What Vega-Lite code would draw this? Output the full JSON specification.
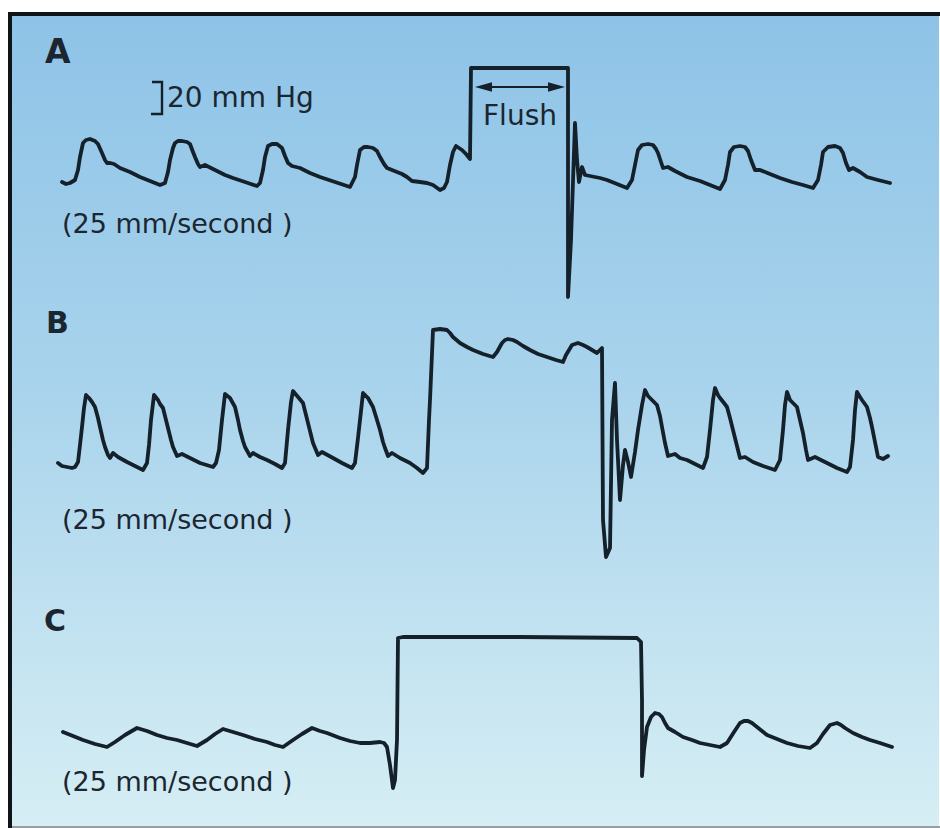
{
  "$schema": "https://vega.github.io/schema/vega-lite/v6.json",
  "width": 940,
  "height": 828,
  "padding": 0,
  "autosize": {"type": "none"},
  "background": "#ffffff",
  "config": {"view": {"stroke": null}},
  "datasets": {
    "wave": [
      {"p":"A","i":0,"t":62,"v":182},{"p":"A","i":1,"t":66,"v":184},{"p":"A","i":2,"t":70,"v":183},{"p":"A","i":3,"t":75,"v":180},{"p":"A","i":4,"t":78,"v":170},{"p":"A","i":5,"t":80,"v":157},{"p":"A","i":6,"t":83,"v":143},{"p":"A","i":7,"t":86,"v":140},{"p":"A","i":8,"t":90,"v":139},{"p":"A","i":9,"t":95,"v":141},{"p":"A","i":10,"t":98,"v":144},{"p":"A","i":11,"t":102,"v":153},{"p":"A","i":12,"t":105,"v":160},{"p":"A","i":13,"t":107,"v":163},{"p":"A","i":14,"t":110,"v":163},{"p":"A","i":15,"t":114,"v":164},{"p":"A","i":16,"t":120,"v":168},{"p":"A","i":17,"t":130,"v":172},{"p":"A","i":18,"t":140,"v":177},{"p":"A","i":19,"t":150,"v":181},{"p":"A","i":20,"t":160,"v":185},{"p":"A","i":21,"t":165,"v":183},{"p":"A","i":22,"t":168,"v":172},{"p":"A","i":23,"t":170,"v":160},{"p":"A","i":24,"t":173,"v":148},{"p":"A","i":25,"t":175,"v":143},{"p":"A","i":26,"t":178,"v":141},{"p":"A","i":27,"t":182,"v":141},{"p":"A","i":28,"t":187,"v":142},{"p":"A","i":29,"t":190,"v":144},{"p":"A","i":30,"t":193,"v":152},{"p":"A","i":31,"t":195,"v":157},{"p":"A","i":32,"t":198,"v":164},{"p":"A","i":33,"t":200,"v":167},{"p":"A","i":34,"t":205,"v":165},{"p":"A","i":35,"t":215,"v":170},{"p":"A","i":36,"t":225,"v":175},{"p":"A","i":37,"t":233,"v":178},{"p":"A","i":38,"t":245,"v":182},{"p":"A","i":39,"t":257,"v":186},{"p":"A","i":40,"t":260,"v":183},{"p":"A","i":41,"t":263,"v":170},{"p":"A","i":42,"t":265,"v":157},{"p":"A","i":43,"t":268,"v":146},{"p":"A","i":44,"t":272,"v":144},{"p":"A","i":45,"t":277,"v":144},{"p":"A","i":46,"t":282,"v":148},{"p":"A","i":47,"t":285,"v":156},{"p":"A","i":48,"t":288,"v":163},{"p":"A","i":49,"t":292,"v":166},{"p":"A","i":50,"t":296,"v":167},{"p":"A","i":51,"t":300,"v":168},{"p":"A","i":52,"t":310,"v":173},{"p":"A","i":53,"t":320,"v":177},{"p":"A","i":54,"t":335,"v":182},{"p":"A","i":55,"t":350,"v":187},{"p":"A","i":56,"t":355,"v":177},{"p":"A","i":57,"t":357,"v":165},{"p":"A","i":58,"t":360,"v":150},{"p":"A","i":59,"t":364,"v":147},{"p":"A","i":60,"t":368,"v":147},{"p":"A","i":61,"t":373,"v":148},{"p":"A","i":62,"t":377,"v":151},{"p":"A","i":63,"t":380,"v":157},{"p":"A","i":64,"t":384,"v":164},{"p":"A","i":65,"t":387,"v":168},{"p":"A","i":66,"t":392,"v":170},{"p":"A","i":67,"t":397,"v":172},{"p":"A","i":68,"t":402,"v":174},{"p":"A","i":69,"t":407,"v":177},{"p":"A","i":70,"t":412,"v":181},{"p":"A","i":71,"t":420,"v":182},{"p":"A","i":72,"t":427,"v":183},{"p":"A","i":73,"t":433,"v":185},{"p":"A","i":74,"t":440,"v":190},{"p":"A","i":75,"t":444,"v":188},{"p":"A","i":76,"t":447,"v":182},{"p":"A","i":77,"t":450,"v":165},{"p":"A","i":78,"t":453,"v":152},{"p":"A","i":79,"t":456,"v":146},{"p":"A","i":80,"t":459,"v":148},{"p":"A","i":81,"t":462,"v":150},{"p":"A","i":82,"t":466,"v":154},{"p":"A","i":83,"t":470,"v":159},{"p":"A","i":84,"t":471,"v":68},{"p":"A","i":85,"t":568,"v":68},{"p":"A","i":86,"t":568,"v":297},{"p":"A","i":87,"t":571,"v":240},{"p":"A","i":88,"t":575,"v":123},{"p":"A","i":89,"t":577,"v":160},{"p":"A","i":90,"t":579,"v":182},{"p":"A","i":91,"t":582,"v":167},{"p":"A","i":92,"t":585,"v":175},{"p":"A","i":93,"t":590,"v":176},{"p":"A","i":94,"t":600,"v":178},{"p":"A","i":95,"t":607,"v":180},{"p":"A","i":96,"t":617,"v":184},{"p":"A","i":97,"t":627,"v":188},{"p":"A","i":98,"t":632,"v":180},{"p":"A","i":99,"t":635,"v":165},{"p":"A","i":100,"t":638,"v":150},{"p":"A","i":101,"t":642,"v":145},{"p":"A","i":102,"t":648,"v":144},{"p":"A","i":103,"t":653,"v":145},{"p":"A","i":104,"t":656,"v":149},{"p":"A","i":105,"t":658,"v":153},{"p":"A","i":106,"t":661,"v":162},{"p":"A","i":107,"t":663,"v":168},{"p":"A","i":108,"t":668,"v":167},{"p":"A","i":109,"t":675,"v":171},{"p":"A","i":110,"t":687,"v":177},{"p":"A","i":111,"t":700,"v":181},{"p":"A","i":112,"t":710,"v":185},{"p":"A","i":113,"t":720,"v":189},{"p":"A","i":114,"t":725,"v":180},{"p":"A","i":115,"t":728,"v":165},{"p":"A","i":116,"t":730,"v":152},{"p":"A","i":117,"t":734,"v":147},{"p":"A","i":118,"t":740,"v":146},{"p":"A","i":119,"t":745,"v":147},{"p":"A","i":120,"t":748,"v":151},{"p":"A","i":121,"t":751,"v":160},{"p":"A","i":122,"t":755,"v":170},{"p":"A","i":123,"t":760,"v":170},{"p":"A","i":124,"t":770,"v":174},{"p":"A","i":125,"t":780,"v":178},{"p":"A","i":126,"t":792,"v":182},{"p":"A","i":127,"t":803,"v":185},{"p":"A","i":128,"t":813,"v":188},{"p":"A","i":129,"t":818,"v":180},{"p":"A","i":130,"t":821,"v":165},{"p":"A","i":131,"t":823,"v":152},{"p":"A","i":132,"t":828,"v":147},{"p":"A","i":133,"t":835,"v":146},{"p":"A","i":134,"t":840,"v":148},{"p":"A","i":135,"t":843,"v":153},{"p":"A","i":136,"t":846,"v":163},{"p":"A","i":137,"t":849,"v":170},{"p":"A","i":138,"t":853,"v":168},{"p":"A","i":139,"t":860,"v":172},{"p":"A","i":140,"t":867,"v":177},{"p":"A","i":141,"t":878,"v":180},{"p":"A","i":142,"t":890,"v":183},

      {"p":"B","i":0,"t":58,"v":463},{"p":"B","i":1,"t":62,"v":466},{"p":"B","i":2,"t":67,"v":467},{"p":"B","i":3,"t":72,"v":468},{"p":"B","i":4,"t":75,"v":467},{"p":"B","i":5,"t":78,"v":462},{"p":"B","i":6,"t":80,"v":445},{"p":"B","i":7,"t":82,"v":427},{"p":"B","i":8,"t":84,"v":408},{"p":"B","i":9,"t":86,"v":395},{"p":"B","i":10,"t":89,"v":398},{"p":"B","i":11,"t":92,"v":402},{"p":"B","i":12,"t":95,"v":407},{"p":"B","i":13,"t":98,"v":418},{"p":"B","i":14,"t":100,"v":427},{"p":"B","i":15,"t":103,"v":440},{"p":"B","i":16,"t":105,"v":447},{"p":"B","i":17,"t":108,"v":455},{"p":"B","i":18,"t":110,"v":458},{"p":"B","i":19,"t":113,"v":453},{"p":"B","i":20,"t":118,"v":457},{"p":"B","i":21,"t":127,"v":462},{"p":"B","i":22,"t":135,"v":466},{"p":"B","i":23,"t":143,"v":470},{"p":"B","i":24,"t":147,"v":463},{"p":"B","i":25,"t":149,"v":445},{"p":"B","i":26,"t":151,"v":420},{"p":"B","i":27,"t":154,"v":395},{"p":"B","i":28,"t":158,"v":400},{"p":"B","i":29,"t":160,"v":404},{"p":"B","i":30,"t":163,"v":408},{"p":"B","i":31,"t":166,"v":420},{"p":"B","i":32,"t":168,"v":428},{"p":"B","i":33,"t":171,"v":440},{"p":"B","i":34,"t":173,"v":447},{"p":"B","i":35,"t":177,"v":456},{"p":"B","i":36,"t":182,"v":454},{"p":"B","i":37,"t":190,"v":458},{"p":"B","i":38,"t":200,"v":463},{"p":"B","i":39,"t":213,"v":467},{"p":"B","i":40,"t":216,"v":463},{"p":"B","i":41,"t":219,"v":450},{"p":"B","i":42,"t":222,"v":420},{"p":"B","i":43,"t":225,"v":394},{"p":"B","i":44,"t":230,"v":398},{"p":"B","i":45,"t":235,"v":407},{"p":"B","i":46,"t":238,"v":420},{"p":"B","i":47,"t":240,"v":430},{"p":"B","i":48,"t":243,"v":441},{"p":"B","i":49,"t":245,"v":447},{"p":"B","i":50,"t":250,"v":456},{"p":"B","i":51,"t":253,"v":453},{"p":"B","i":52,"t":260,"v":457},{"p":"B","i":53,"t":267,"v":460},{"p":"B","i":54,"t":275,"v":464},{"p":"B","i":55,"t":282,"v":468},{"p":"B","i":56,"t":285,"v":463},{"p":"B","i":57,"t":288,"v":430},{"p":"B","i":58,"t":291,"v":402},{"p":"B","i":59,"t":293,"v":391},{"p":"B","i":60,"t":298,"v":397},{"p":"B","i":61,"t":303,"v":403},{"p":"B","i":62,"t":306,"v":415},{"p":"B","i":63,"t":308,"v":423},{"p":"B","i":64,"t":311,"v":435},{"p":"B","i":65,"t":313,"v":443},{"p":"B","i":66,"t":318,"v":455},{"p":"B","i":67,"t":322,"v":452},{"p":"B","i":68,"t":333,"v":458},{"p":"B","i":69,"t":342,"v":463},{"p":"B","i":70,"t":352,"v":468},{"p":"B","i":71,"t":355,"v":463},{"p":"B","i":72,"t":358,"v":438},{"p":"B","i":73,"t":360,"v":420},{"p":"B","i":74,"t":363,"v":393},{"p":"B","i":75,"t":368,"v":398},{"p":"B","i":76,"t":373,"v":407},{"p":"B","i":77,"t":377,"v":420},{"p":"B","i":78,"t":380,"v":430},{"p":"B","i":79,"t":383,"v":442},{"p":"B","i":80,"t":385,"v":448},{"p":"B","i":81,"t":388,"v":456},{"p":"B","i":82,"t":392,"v":453},{"p":"B","i":83,"t":400,"v":458},{"p":"B","i":84,"t":410,"v":463},{"p":"B","i":85,"t":417,"v":468},{"p":"B","i":86,"t":423,"v":473},{"p":"B","i":87,"t":427,"v":468},{"p":"B","i":88,"t":429,"v":420},{"p":"B","i":89,"t":430,"v":400},{"p":"B","i":90,"t":433,"v":330},{"p":"B","i":91,"t":440,"v":329},{"p":"B","i":92,"t":447,"v":330},{"p":"B","i":93,"t":450,"v":333},{"p":"B","i":94,"t":453,"v":337},{"p":"B","i":95,"t":460,"v":343},{"p":"B","i":96,"t":467,"v":347},{"p":"B","i":97,"t":473,"v":350},{"p":"B","i":98,"t":483,"v":354},{"p":"B","i":99,"t":493,"v":357},{"p":"B","i":100,"t":497,"v":352},{"p":"B","i":101,"t":502,"v":343},{"p":"B","i":102,"t":505,"v":340},{"p":"B","i":103,"t":508,"v":339},{"p":"B","i":104,"t":513,"v":340},{"p":"B","i":105,"t":517,"v":342},{"p":"B","i":106,"t":523,"v":346},{"p":"B","i":107,"t":530,"v":350},{"p":"B","i":108,"t":538,"v":354},{"p":"B","i":109,"t":547,"v":357},{"p":"B","i":110,"t":556,"v":360},{"p":"B","i":111,"t":563,"v":362},{"p":"B","i":112,"t":566,"v":355},{"p":"B","i":113,"t":572,"v":345},{"p":"B","i":114,"t":578,"v":343},{"p":"B","i":115,"t":583,"v":345},{"p":"B","i":116,"t":587,"v":347},{"p":"B","i":117,"t":592,"v":350},{"p":"B","i":118,"t":597,"v":353},{"p":"B","i":119,"t":602,"v":348},{"p":"B","i":120,"t":603,"v":520},{"p":"B","i":121,"t":606,"v":557},{"p":"B","i":122,"t":610,"v":548},{"p":"B","i":123,"t":612,"v":420},{"p":"B","i":124,"t":615,"v":383},{"p":"B","i":125,"t":617,"v":440},{"p":"B","i":126,"t":620,"v":500},{"p":"B","i":127,"t":623,"v":465},{"p":"B","i":128,"t":625,"v":450},{"p":"B","i":129,"t":628,"v":462},{"p":"B","i":130,"t":631,"v":477},{"p":"B","i":131,"t":635,"v":452},{"p":"B","i":132,"t":638,"v":430},{"p":"B","i":133,"t":642,"v":405},{"p":"B","i":134,"t":645,"v":390},{"p":"B","i":135,"t":648,"v":396},{"p":"B","i":136,"t":652,"v":400},{"p":"B","i":137,"t":657,"v":405},{"p":"B","i":138,"t":660,"v":416},{"p":"B","i":139,"t":662,"v":427},{"p":"B","i":140,"t":665,"v":443},{"p":"B","i":141,"t":668,"v":456},{"p":"B","i":142,"t":675,"v":454},{"p":"B","i":143,"t":680,"v":458},{"p":"B","i":144,"t":687,"v":460},{"p":"B","i":145,"t":695,"v":464},{"p":"B","i":146,"t":703,"v":468},{"p":"B","i":147,"t":707,"v":457},{"p":"B","i":148,"t":710,"v":430},{"p":"B","i":149,"t":713,"v":400},{"p":"B","i":150,"t":715,"v":388},{"p":"B","i":151,"t":718,"v":395},{"p":"B","i":152,"t":720,"v":398},{"p":"B","i":153,"t":724,"v":403},{"p":"B","i":154,"t":727,"v":407},{"p":"B","i":155,"t":730,"v":418},{"p":"B","i":156,"t":733,"v":430},{"p":"B","i":157,"t":737,"v":446},{"p":"B","i":158,"t":740,"v":458},{"p":"B","i":159,"t":745,"v":457},{"p":"B","i":160,"t":753,"v":462},{"p":"B","i":161,"t":763,"v":466},{"p":"B","i":162,"t":775,"v":470},{"p":"B","i":163,"t":780,"v":460},{"p":"B","i":164,"t":783,"v":430},{"p":"B","i":165,"t":785,"v":405},{"p":"B","i":166,"t":787,"v":392},{"p":"B","i":167,"t":790,"v":400},{"p":"B","i":168,"t":794,"v":404},{"p":"B","i":169,"t":797,"v":407},{"p":"B","i":170,"t":800,"v":420},{"p":"B","i":171,"t":803,"v":433},{"p":"B","i":172,"t":806,"v":450},{"p":"B","i":173,"t":808,"v":460},{"p":"B","i":174,"t":815,"v":457},{"p":"B","i":175,"t":827,"v":463},{"p":"B","i":176,"t":837,"v":468},{"p":"B","i":177,"t":847,"v":472},{"p":"B","i":178,"t":850,"v":467},{"p":"B","i":179,"t":853,"v":440},{"p":"B","i":180,"t":855,"v":410},{"p":"B","i":181,"t":857,"v":392},{"p":"B","i":182,"t":860,"v":397},{"p":"B","i":183,"t":862,"v":400},{"p":"B","i":184,"t":867,"v":407},{"p":"B","i":185,"t":870,"v":418},{"p":"B","i":186,"t":872,"v":427},{"p":"B","i":187,"t":875,"v":442},{"p":"B","i":188,"t":878,"v":457},{"p":"B","i":189,"t":883,"v":459},{"p":"B","i":190,"t":888,"v":456},

      {"p":"C","i":0,"t":63,"v":732},{"p":"C","i":1,"t":73,"v":736},{"p":"C","i":2,"t":83,"v":740},{"p":"C","i":3,"t":95,"v":744},{"p":"C","i":4,"t":107,"v":747},{"p":"C","i":5,"t":115,"v":742},{"p":"C","i":6,"t":125,"v":735},{"p":"C","i":7,"t":137,"v":728},{"p":"C","i":8,"t":147,"v":731},{"p":"C","i":9,"t":157,"v":735},{"p":"C","i":10,"t":167,"v":738},{"p":"C","i":11,"t":177,"v":740},{"p":"C","i":12,"t":187,"v":743},{"p":"C","i":13,"t":197,"v":746},{"p":"C","i":14,"t":207,"v":740},{"p":"C","i":15,"t":215,"v":734},{"p":"C","i":16,"t":223,"v":729},{"p":"C","i":17,"t":233,"v":732},{"p":"C","i":18,"t":243,"v":735},{"p":"C","i":19,"t":255,"v":739},{"p":"C","i":20,"t":267,"v":742},{"p":"C","i":21,"t":275,"v":745},{"p":"C","i":22,"t":283,"v":747},{"p":"C","i":23,"t":293,"v":740},{"p":"C","i":24,"t":302,"v":734},{"p":"C","i":25,"t":312,"v":728},{"p":"C","i":26,"t":320,"v":731},{"p":"C","i":27,"t":327,"v":733},{"p":"C","i":28,"t":340,"v":738},{"p":"C","i":29,"t":350,"v":741},{"p":"C","i":30,"t":360,"v":743},{"p":"C","i":31,"t":370,"v":743},{"p":"C","i":32,"t":380,"v":742},{"p":"C","i":33,"t":384,"v":743},{"p":"C","i":34,"t":387,"v":747},{"p":"C","i":35,"t":390,"v":765},{"p":"C","i":36,"t":393,"v":788},{"p":"C","i":37,"t":395,"v":780},{"p":"C","i":38,"t":397,"v":740},{"p":"C","i":39,"t":398,"v":638},{"p":"C","i":40,"t":403,"v":637},{"p":"C","i":41,"t":520,"v":637},{"p":"C","i":42,"t":637,"v":638},{"p":"C","i":43,"t":641,"v":642},{"p":"C","i":44,"t":642,"v":700},{"p":"C","i":45,"t":642,"v":776},{"p":"C","i":46,"t":644,"v":750},{"p":"C","i":47,"t":647,"v":727},{"p":"C","i":48,"t":651,"v":717},{"p":"C","i":49,"t":655,"v":713},{"p":"C","i":50,"t":659,"v":714},{"p":"C","i":51,"t":662,"v":717},{"p":"C","i":52,"t":665,"v":723},{"p":"C","i":53,"t":668,"v":728},{"p":"C","i":54,"t":675,"v":732},{"p":"C","i":55,"t":683,"v":737},{"p":"C","i":56,"t":692,"v":740},{"p":"C","i":57,"t":700,"v":743},{"p":"C","i":58,"t":710,"v":745},{"p":"C","i":59,"t":720,"v":747},{"p":"C","i":60,"t":727,"v":743},{"p":"C","i":61,"t":734,"v":732},{"p":"C","i":62,"t":740,"v":723},{"p":"C","i":63,"t":744,"v":721},{"p":"C","i":64,"t":748,"v":721},{"p":"C","i":65,"t":752,"v":723},{"p":"C","i":66,"t":757,"v":727},{"p":"C","i":67,"t":762,"v":731},{"p":"C","i":68,"t":767,"v":735},{"p":"C","i":69,"t":777,"v":739},{"p":"C","i":70,"t":787,"v":743},{"p":"C","i":71,"t":798,"v":746},{"p":"C","i":72,"t":810,"v":748},{"p":"C","i":73,"t":817,"v":743},{"p":"C","i":74,"t":823,"v":734},{"p":"C","i":75,"t":830,"v":725},{"p":"C","i":76,"t":837,"v":723},{"p":"C","i":77,"t":841,"v":725},{"p":"C","i":78,"t":845,"v":728},{"p":"C","i":79,"t":853,"v":733},{"p":"C","i":80,"t":862,"v":737},{"p":"C","i":81,"t":870,"v":740},{"p":"C","i":82,"t":880,"v":743},{"p":"C","i":83,"t":892,"v":747}
    ],
    "bracket": [
      {"i":0,"t":152,"v":82},{"i":1,"t":162,"v":82},{"i":2,"t":162,"v":114},{"i":3,"t":151,"v":114}
    ]
  },
  "layer": [
    {
      "data": {"values": [{}]},
      "mark": {"type": "rect", "fill": {"gradient": "linear", "x1": 0, "y1": 0, "x2": 0, "y2": 1, "stops": [{"offset": 0, "color": "#8ec3e7"}, {"offset": 0.45, "color": "#a8d3ec"}, {"offset": 1, "color": "#d6eef4"}]}},
      "encoding": {
        "x": {"datum": 10, "type": "quantitative", "scale": {"domain": [0, 940], "nice": false, "zero": false}, "axis": null},
        "x2": {"datum": 939},
        "y": {"datum": 14, "type": "quantitative", "scale": {"domain": [0, 828], "reverse": true, "nice": false, "zero": false}, "axis": null},
        "y2": {"datum": 827}
      }
    },
    {
      "data": {"values": [{}]},
      "mark": {"type": "rule", "color": "#101418", "strokeWidth": 4},
      "encoding": {
        "x": {"datum": 8, "type": "quantitative", "scale": {"domain": [0, 940], "nice": false, "zero": false}, "axis": null},
        "x2": {"datum": 940},
        "y": {"datum": 14, "type": "quantitative", "scale": {"domain": [0, 828], "reverse": true, "nice": false, "zero": false}, "axis": null}
      }
    },
    {
      "data": {"values": [{}]},
      "mark": {"type": "rule", "color": "#101418", "strokeWidth": 4},
      "encoding": {
        "x": {"datum": 10, "type": "quantitative", "scale": {"domain": [0, 940], "nice": false, "zero": false}, "axis": null},
        "y": {"datum": 12, "type": "quantitative", "scale": {"domain": [0, 828], "reverse": true, "nice": false, "zero": false}, "axis": null},
        "y2": {"datum": 828}
      }
    },
    {
      "data": {"values": [{}]},
      "mark": {"type": "rule", "color": "#9a9ea2", "strokeWidth": 2},
      "encoding": {
        "x": {"datum": 12, "type": "quantitative", "scale": {"domain": [0, 940], "nice": false, "zero": false}, "axis": null},
        "x2": {"datum": 940},
        "y": {"datum": 827, "type": "quantitative", "scale": {"domain": [0, 828], "reverse": true, "nice": false, "zero": false}, "axis": null}
      }
    },
    {
      "data": {"name": "wave"},
      "mark": {"type": "line", "color": "#14202a", "strokeWidth": 3.8, "strokeJoin": "round", "strokeCap": "round"},
      "encoding": {
        "x": {"field": "t", "type": "quantitative", "scale": {"domain": [0, 940], "nice": false, "zero": false}, "axis": null},
        "y": {"field": "v", "type": "quantitative", "scale": {"domain": [0, 828], "reverse": true, "nice": false, "zero": false}, "axis": null},
        "detail": {"field": "p", "type": "nominal"},
        "order": {"field": "i", "type": "quantitative"}
      }
    },
    {
      "data": {"name": "bracket"},
      "mark": {"type": "line", "color": "#15212a", "strokeWidth": 2.4},
      "encoding": {
        "x": {"field": "t", "type": "quantitative", "scale": {"domain": [0, 940], "nice": false, "zero": false}, "axis": null},
        "y": {"field": "v", "type": "quantitative", "scale": {"domain": [0, 828], "reverse": true, "nice": false, "zero": false}, "axis": null},
        "order": {"field": "i", "type": "quantitative"}
      }
    },
    {
      "data": {"values": [{}]},
      "mark": {"type": "rule", "color": "#15212a", "strokeWidth": 2.2},
      "encoding": {
        "x": {"datum": 480, "type": "quantitative", "scale": {"domain": [0, 940], "nice": false, "zero": false}, "axis": null},
        "x2": {"datum": 560},
        "y": {"datum": 87, "type": "quantitative", "scale": {"domain": [0, 828], "reverse": true, "nice": false, "zero": false}, "axis": null}
      }
    },
    {
      "data": {"values": [{}]},
      "mark": {"type": "point", "filled": true, "opacity": 1, "color": "#15212a", "size": 289, "shape": "M -1 0 L 1 -0.55 L 1 0.55 Z"},
      "encoding": {
        "x": {"datum": 483.5, "type": "quantitative", "scale": {"domain": [0, 940], "nice": false, "zero": false}, "axis": null},
        "y": {"datum": 87, "type": "quantitative", "scale": {"domain": [0, 828], "reverse": true, "nice": false, "zero": false}, "axis": null}
      }
    },
    {
      "data": {"values": [{}]},
      "mark": {"type": "point", "filled": true, "opacity": 1, "color": "#15212a", "size": 289, "shape": "M 1 0 L -1 -0.55 L -1 0.55 Z"},
      "encoding": {
        "x": {"datum": 556.5, "type": "quantitative", "scale": {"domain": [0, 940], "nice": false, "zero": false}, "axis": null},
        "y": {"datum": 87, "type": "quantitative", "scale": {"domain": [0, 828], "reverse": true, "nice": false, "zero": false}, "axis": null}
      }
    },
    {
      "data": {"values": [{}]},
      "mark": {"type": "text", "text": "A", "font": "DejaVu Sans", "fontWeight": "bold", "fontSize": 33, "color": "#1b2630", "align": "left", "baseline": "alphabetic"},
      "encoding": {
        "x": {"datum": 45, "type": "quantitative", "scale": {"domain": [0, 940], "nice": false, "zero": false}, "axis": null},
        "y": {"datum": 63, "type": "quantitative", "scale": {"domain": [0, 828], "reverse": true, "nice": false, "zero": false}, "axis": null}
      }
    },
    {
      "data": {"values": [{}]},
      "mark": {"type": "text", "text": "B", "font": "DejaVu Sans", "fontWeight": "bold", "fontSize": 30, "color": "#1b2630", "align": "left", "baseline": "alphabetic"},
      "encoding": {
        "x": {"datum": 46, "type": "quantitative", "scale": {"domain": [0, 940], "nice": false, "zero": false}, "axis": null},
        "y": {"datum": 333, "type": "quantitative", "scale": {"domain": [0, 828], "reverse": true, "nice": false, "zero": false}, "axis": null}
      }
    },
    {
      "data": {"values": [{}]},
      "mark": {"type": "text", "text": "C", "font": "DejaVu Sans", "fontWeight": "bold", "fontSize": 30, "color": "#1b2630", "align": "left", "baseline": "alphabetic"},
      "encoding": {
        "x": {"datum": 44, "type": "quantitative", "scale": {"domain": [0, 940], "nice": false, "zero": false}, "axis": null},
        "y": {"datum": 631, "type": "quantitative", "scale": {"domain": [0, 828], "reverse": true, "nice": false, "zero": false}, "axis": null}
      }
    },
    {
      "data": {"values": [{}]},
      "mark": {"type": "text", "text": "20 mm Hg", "font": "DejaVu Sans", "fontSize": 28, "color": "#1b2630", "align": "left", "baseline": "alphabetic"},
      "encoding": {
        "x": {"datum": 167, "type": "quantitative", "scale": {"domain": [0, 940], "nice": false, "zero": false}, "axis": null},
        "y": {"datum": 107, "type": "quantitative", "scale": {"domain": [0, 828], "reverse": true, "nice": false, "zero": false}, "axis": null}
      }
    },
    {
      "data": {"values": [{}]},
      "mark": {"type": "text", "text": "Flush", "font": "DejaVu Sans", "fontSize": 28, "color": "#1b2630", "align": "left", "baseline": "alphabetic"},
      "encoding": {
        "x": {"datum": 483, "type": "quantitative", "scale": {"domain": [0, 940], "nice": false, "zero": false}, "axis": null},
        "y": {"datum": 125, "type": "quantitative", "scale": {"domain": [0, 828], "reverse": true, "nice": false, "zero": false}, "axis": null}
      }
    },
    {
      "data": {"values": [{}]},
      "mark": {"type": "text", "text": "(25 mm/second )", "font": "DejaVu Sans", "fontSize": 27, "color": "#1b2630", "align": "left", "baseline": "alphabetic"},
      "encoding": {
        "x": {"datum": 62, "type": "quantitative", "scale": {"domain": [0, 940], "nice": false, "zero": false}, "axis": null},
        "y": {"datum": 233, "type": "quantitative", "scale": {"domain": [0, 828], "reverse": true, "nice": false, "zero": false}, "axis": null}
      }
    },
    {
      "data": {"values": [{}]},
      "mark": {"type": "text", "text": "(25 mm/second )", "font": "DejaVu Sans", "fontSize": 27, "color": "#1b2630", "align": "left", "baseline": "alphabetic"},
      "encoding": {
        "x": {"datum": 62, "type": "quantitative", "scale": {"domain": [0, 940], "nice": false, "zero": false}, "axis": null},
        "y": {"datum": 529, "type": "quantitative", "scale": {"domain": [0, 828], "reverse": true, "nice": false, "zero": false}, "axis": null}
      }
    },
    {
      "data": {"values": [{}]},
      "mark": {"type": "text", "text": "(25 mm/second )", "font": "DejaVu Sans", "fontSize": 27, "color": "#1b2630", "align": "left", "baseline": "alphabetic"},
      "encoding": {
        "x": {"datum": 62, "type": "quantitative", "scale": {"domain": [0, 940], "nice": false, "zero": false}, "axis": null},
        "y": {"datum": 791, "type": "quantitative", "scale": {"domain": [0, 828], "reverse": true, "nice": false, "zero": false}, "axis": null}
      }
    }
  ]
}
